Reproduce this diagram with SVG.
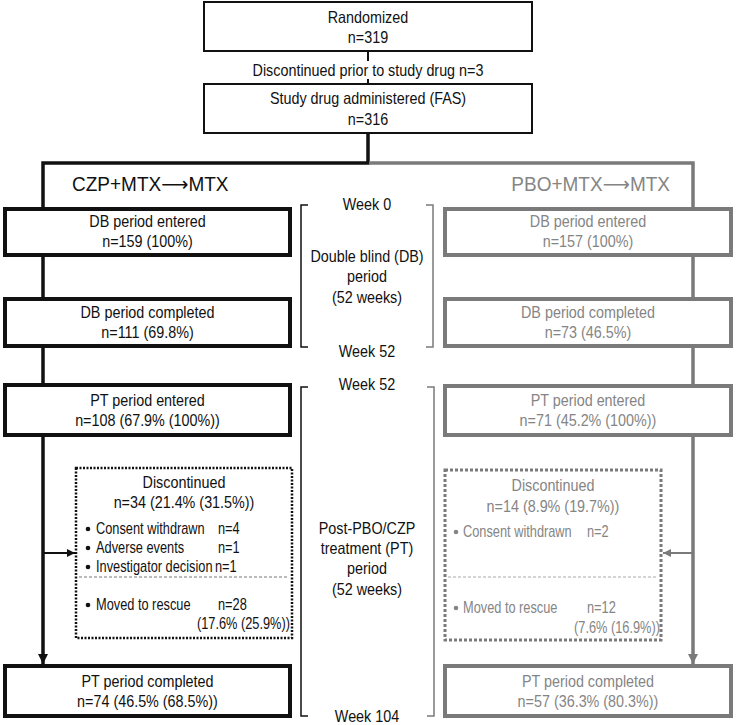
<svg xmlns="http://www.w3.org/2000/svg" width="737" height="725" viewBox="0 0 737 725">
<style>
text { font-family: "Liberation Sans", Arial, sans-serif; }
.t { font-size: 16.5px; text-anchor: middle; transform-box: fill-box; transform-origin: center; transform: scaleX(0.87); }
.s { font-size: 16px; text-anchor: start; transform-box: fill-box; transform-origin: left center; transform: scaleX(0.8); }
.e { font-size: 16px; text-anchor: end; transform-box: fill-box; transform-origin: right center; transform: scaleX(0.8); }
.big { font-size: 20px; transform-box: fill-box; transform: scaleX(0.95); }
.bl { transform-origin: left center; }
.br { transform-origin: right center; }
.arr { font-family: "DejaVu Sans", sans-serif; }
.k { fill: #111; }
.g { fill: #858585; }
.topbox { fill: #fff; stroke: #111; stroke-width: 2; }
.kbox { fill: #fff; stroke: #111; stroke-width: 4; }
.gbox { fill: #fff; stroke: #7a7a7a; stroke-width: 4; }
.kdot { fill: none; stroke: #111; stroke-width: 2.5; stroke-dasharray: 2 1.5; }
.gdot { fill: none; stroke: #7a7a7a; stroke-width: 3; stroke-dasharray: 3 2; }
.ksep { stroke: #777; stroke-width: 1; stroke-dasharray: 3 2; }
.gsep { stroke: #aaa; stroke-width: 1; stroke-dasharray: 3 2; }
.kline { fill: none; stroke: #111; stroke-width: 3.5; }
.gline { fill: none; stroke: #7a7a7a; stroke-width: 3.5; }
.kthin { fill: none; stroke: #111; stroke-width: 2; }
.gthin { fill: none; stroke: #7a7a7a; stroke-width: 2; }
.kbr { fill: none; stroke: #111; stroke-width: 1.5; }
.gbr { fill: none; stroke: #7a7a7a; stroke-width: 1.5; }
</style>
<defs>
<marker id="ak" viewBox="0 0 10 10" refX="10" refY="5" markerWidth="10" markerHeight="10" markerUnits="userSpaceOnUse" orient="auto"><path d="M0,0 L10,5 L0,10 z" fill="#111"/></marker>
<marker id="ag" viewBox="0 0 10 10" refX="10" refY="5" markerWidth="10" markerHeight="10" markerUnits="userSpaceOnUse" orient="auto"><path d="M0,0 L10,5 L0,10 z" fill="#7a7a7a"/></marker>
<marker id="aks" viewBox="0 0 10 10" refX="10" refY="5" markerWidth="8" markerHeight="8" markerUnits="userSpaceOnUse" orient="auto"><path d="M0,0 L10,5 L0,10 z" fill="#111"/></marker>
<marker id="ags" viewBox="0 0 10 10" refX="10" refY="5" markerWidth="8" markerHeight="8" markerUnits="userSpaceOnUse" orient="auto"><path d="M0,0 L10,5 L0,10 z" fill="#7a7a7a"/></marker>
</defs>
<rect width="737" height="725" fill="#fff"/>

<g id="connectors">
<path class="kthin" d="M368,52 V61"/>
<path class="kthin" d="M368,79 V83"/>
<path class="kline" d="M368,134 V163 H43 V207"/>
<path class="gline" d="M369,163 H693 V207"/>
<path class="kline" d="M43,257 V297"/>
<path class="kline" d="M43,348 V383"/>
<path class="kline" d="M43,437 V664" marker-end="url(#ak)"/>
<path class="gline" d="M693,257 V297"/>
<path class="gline" d="M693,348 V384"/>
<path class="gline" d="M693,437 V664" marker-end="url(#ag)"/>
<path class="kthin" d="M43,553 H75" marker-end="url(#aks)"/>
<path class="gthin" d="M693,553 H663" marker-end="url(#ags)"/>
</g>

<g id="randomized">
<rect class="topbox" x="204" y="2" width="328" height="49"/>
<text class="t k" x="368" y="23">Randomized</text>
<text class="t k" x="368" y="43">n=319</text>
</g>
<g id="discontinued-prior">
<text class="t k" x="368" y="76">Discontinued prior to study drug n=3</text>
</g>
<g id="fas">
<rect class="topbox" x="204" y="84" width="328" height="49"/>
<text class="t k" x="368" y="104">Study drug administered (FAS)</text>
<text class="t k" x="368" y="125">n=316</text>
</g>

<g id="arm-czp-label">
<text class="big bl k" x="72" y="191">CZP+MTX<tspan class="arr">⟶</tspan>MTX</text>
</g>
<g id="arm-pbo-label">
<text class="big br g" x="670" y="191" text-anchor="end">PBO+MTX<tspan class="arr">⟶</tspan>MTX</text>
</g>

<g id="czp-db-entered">
<rect class="kbox" x="5" y="209" width="285" height="46"/>
<text class="t k" x="147.5" y="227">DB period entered</text>
<text class="t k" x="147.5" y="247">n=159 (100%)</text>
</g>
<g id="czp-db-completed">
<rect class="kbox" x="5" y="299" width="285" height="47"/>
<text class="t k" x="147.5" y="318">DB period completed</text>
<text class="t k" x="147.5" y="338">n=111 (69.8%)</text>
</g>
<g id="czp-pt-entered">
<rect class="kbox" x="5" y="385" width="285" height="50"/>
<text class="t k" x="147.5" y="406">PT period entered</text>
<text class="t k" x="147.5" y="426">n=108 (67.9% (100%))</text>
</g>
<g id="czp-discontinued">
<rect class="kdot" x="76" y="468" width="216" height="170"/>
<line class="ksep" x1="79" y1="577" x2="289" y2="577"/>
<text class="t k" x="184" y="488">Discontinued</text>
<text class="t k" x="184" y="508">n=34 (21.4% (31.5%))</text>
<circle cx="88" cy="529" r="2.3" fill="#111"/>
<circle cx="88" cy="548" r="2.3" fill="#111"/>
<circle cx="88" cy="567" r="2.3" fill="#111"/>
<circle cx="88" cy="605" r="2.3" fill="#111"/>
<text class="s k" x="96" y="534">Consent withdrawn</text>
<text class="s k" x="218" y="534">n=4</text>
<text class="s k" x="96" y="553">Adverse events</text>
<text class="s k" x="218" y="553">n=1</text>
<text class="s k" x="96" y="572">Investigator decision</text>
<text class="s k" x="215" y="572">n=1</text>
<text class="s k" x="96" y="610">Moved to rescue</text>
<text class="s k" x="218" y="610">n=28</text>
<text class="e k" x="290" y="629">(17.6% (25.9%))</text>
</g>
<g id="czp-pt-completed">
<rect class="kbox" x="5" y="666" width="285" height="50"/>
<text class="t k" x="147.5" y="687">PT period completed</text>
<text class="t k" x="147.5" y="707">n=74 (46.5% (68.5%))</text>
</g>

<g id="pbo-db-entered">
<rect class="gbox" x="445" y="209" width="286" height="46"/>
<text class="t g" x="588" y="227">DB period entered</text>
<text class="t g" x="588" y="247">n=157 (100%)</text>
</g>
<g id="pbo-db-completed">
<rect class="gbox" x="445" y="299" width="286" height="47"/>
<text class="t g" x="588" y="318">DB period completed</text>
<text class="t g" x="588" y="338">n=73 (46.5%)</text>
</g>
<g id="pbo-pt-entered">
<rect class="gbox" x="445" y="386" width="286" height="49"/>
<text class="t g" x="588" y="406">PT period entered</text>
<text class="t g" x="588" y="426">n=71 (45.2% (100%))</text>
</g>
<g id="pbo-discontinued">
<rect class="gdot" x="445" y="470" width="216" height="170"/>
<line class="gsep" x1="448" y1="577" x2="658" y2="577"/>
<text class="t g" x="553" y="491">Discontinued</text>
<text class="t g" x="553" y="512">n=14 (8.9% (19.7%))</text>
<circle cx="456" cy="532" r="2.3" fill="#858585"/>
<circle cx="456" cy="608" r="2.3" fill="#858585"/>
<text class="s g" x="463" y="537">Consent withdrawn</text>
<text class="s g" x="587" y="537">n=2</text>
<text class="s g" x="463" y="613">Moved to rescue</text>
<text class="s g" x="587" y="613">n=12</text>
<text class="e g" x="660" y="633">(7.6% (16.9%))</text>
</g>
<g id="pbo-pt-completed">
<rect class="gbox" x="445" y="666" width="286" height="50"/>
<text class="t g" x="588" y="687">PT period completed</text>
<text class="t g" x="588" y="707">n=57 (36.3% (80.3%))</text>
</g>

<g id="db-period">
<path class="kbr" d="M308,205 H301 V347 H308"/>
<path class="gbr" d="M426,205 H433 V347 H426"/>
<text class="t k" x="367" y="210">Week 0</text>
<text class="t k" x="367" y="262">Double blind (DB)</text>
<text class="t k" x="367" y="282">period</text>
<text class="t k" x="367" y="303">(52 weeks)</text>
<text class="t k" x="367" y="357">Week 52</text>
</g>
<g id="pt-period">
<path class="kbr" d="M308,387 H301 V716 H308"/>
<path class="gbr" d="M427,387 H434 V716 H427"/>
<text class="t k" x="367" y="390">Week 52</text>
<text class="t k" x="367" y="534">Post-PBO/CZP</text>
<text class="t k" x="367" y="554">treatment (PT)</text>
<text class="t k" x="367" y="574">period</text>
<text class="t k" x="367" y="595">(52 weeks)</text>
<text class="t k" x="367" y="722">Week 104</text>
</g>
</svg>
